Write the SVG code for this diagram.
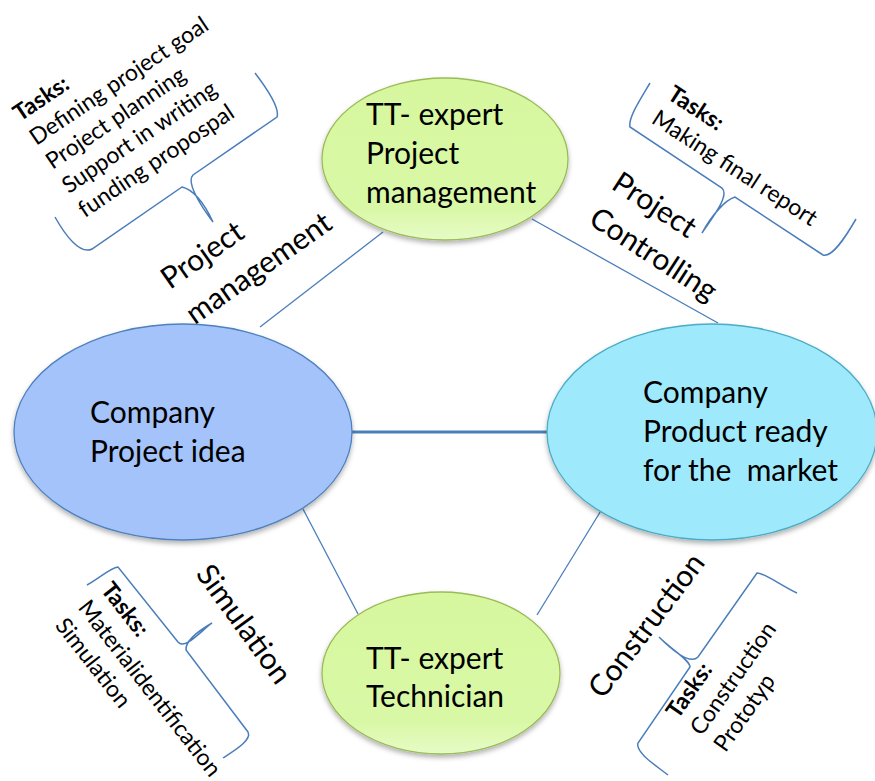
<svg xmlns="http://www.w3.org/2000/svg" width="875" height="781" viewBox="0 0 875 781">
<defs>
<filter id="sh" x="-20%" y="-20%" width="140%" height="150%">
<feDropShadow dx="0" dy="3" stdDeviation="2.5" flood-color="#000" flood-opacity="0.3"/>
</filter>
<linearGradient id="gG" x1="0" y1="0" x2="0" y2="1">
<stop offset="0" stop-color="#d6f79e"/>
<stop offset="0.8" stop-color="#d9f8a6"/>
<stop offset="1" stop-color="#e6fbc6"/>
</linearGradient>
</defs>
<style>
.t{font-family:Lato,"Liberation Sans",sans-serif;fill:#000}
.big{font-size:30px}
.sm{font-size:23px}
.b{font-weight:bold}
.con{stroke:#4a7ebb;stroke-width:1.3;fill:none}
.br{stroke:#4a7ebb;stroke-width:1.5;fill:none}
</style>
<rect width="875" height="781" fill="#fff"/>
<g id="connectors">
<line class="con" x1="260" y1="327" x2="383" y2="232"/>
<line class="con" x1="532" y1="219" x2="718" y2="323"/>
<line class="con" x1="303" y1="509" x2="358" y2="614"/>
<line class="con" x1="602" y1="509" x2="537" y2="615"/>
<line x1="352" y1="432" x2="547" y2="432" stroke="#4a7ebb" stroke-width="3"/>
</g>
<g id="node-company-idea">
<ellipse cx="183" cy="432" rx="169" ry="108" fill="#a3c3fa" stroke="#4f81bd" stroke-width="1.3" filter="url(#sh)"/>
<text class="t big" x="90" y="423">Company</text>
<text class="t big" x="90" y="462">Project idea</text>
</g>
<g id="node-company-market">
<ellipse cx="712" cy="432" rx="165" ry="108" fill="#9eeafc" stroke="#4bacc6" stroke-width="1.3" filter="url(#sh)"/>
<text class="t big" x="643" y="403">Company</text>
<text class="t big" x="643" y="442">Product ready</text>
<text class="t big" x="643" y="481" xml:space="preserve">for the  market</text>
</g>
<g id="node-tt-pm">
<ellipse cx="445" cy="159" rx="123" ry="81" fill="url(#gG)" stroke="#9bbb59" stroke-width="1.3" filter="url(#sh)"/>
<text class="t big" x="366" y="125">TT- expert</text>
<text class="t big" x="366" y="164">Project</text>
<text class="t big" x="366" y="203">management</text>
</g>
<g id="node-tt-tech">
<ellipse cx="441" cy="673" rx="119" ry="81" fill="url(#gG)" stroke="#9bbb59" stroke-width="1.3" filter="url(#sh)"/>
<text class="t big" x="366" y="669">TT- expert</text>
<text class="t big" x="366" y="707">Technician</text>
</g>
<g id="label-pm">
<g transform="translate(170,290) rotate(-35)">
<text class="t big" x="0" y="0">Project</text>
<text class="t big" x="0" y="43">management</text>
</g>
</g>
<g id="label-pc">
<g transform="translate(610,188) rotate(33)">
<text class="t big" x="0" y="0">Project</text>
<text class="t big" x="0" y="42">Controlling</text>
</g>
</g>
<g id="label-sim">
<text class="t big" transform="translate(195,574) rotate(54)">Simulation</text>
</g>
<g id="label-con">
<text class="t big" transform="translate(603,700) rotate(-53)">Construction</text>
</g>
<g id="tasks-pm">
<path class="br" d="M255,73 C268,90 280,108 277,117 L193,175 C186,182 200,205 213,222 C205,205 195,190 182,187 L92,249 C80,255 65,235 55,217"/>
<g transform="translate(20,122) rotate(-34)">
<text class="t sm b" x="0" y="0">Tasks:</text>
<text class="t sm" x="0" y="29">Defining project goal</text>
<text class="t sm" x="0" y="58">Project planning</text>
<text class="t sm" x="0" y="87">Support in writing</text>
<text class="t sm" x="0" y="116">funding propospal</text>
</g>
</g>
<g id="tasks-pc">
<path class="br" d="M650,83 C640,100 628,118 630,127 L722,188 C730,196 712,218 702,233 C712,215 725,200 735,197 L823,255 C832,258 845,238 856,219"/>
<g transform="translate(666,98) rotate(33)">
<text class="t sm b" x="0" y="0">Tasks:</text>
<text class="t sm" x="0" y="29">Making final report</text>
</g>
</g>
<g id="tasks-sim">
<path class="br" d="M87,585 C100,578 110,568 118,567 L178,642 C185,650 200,632 212,623 C200,630 185,640 186,650 L248,732 C252,740 235,750 223,758"/>
<g transform="translate(100,590) rotate(52)">
<text class="t sm b" x="0" y="0">Tasks:</text>
<text class="t sm" x="0" y="29">Materialidentification</text>
<text class="t sm" x="0" y="58">Simulation</text>
</g>
</g>
<g id="tasks-con">
<path class="br" d="M797,593 C780,585 765,573 757,573 L698,657 C690,665 672,650 659,637 C672,650 690,660 690,667 L638,743 C635,752 655,765 668,775"/>
<g transform="translate(678,720) rotate(-55)">
<text class="t sm b" x="0" y="0">Tasks:</text>
<text class="t sm" x="0" y="29">Construction</text>
<text class="t sm" x="0" y="58">Prototyp</text>
</g>
</g>
</svg>
